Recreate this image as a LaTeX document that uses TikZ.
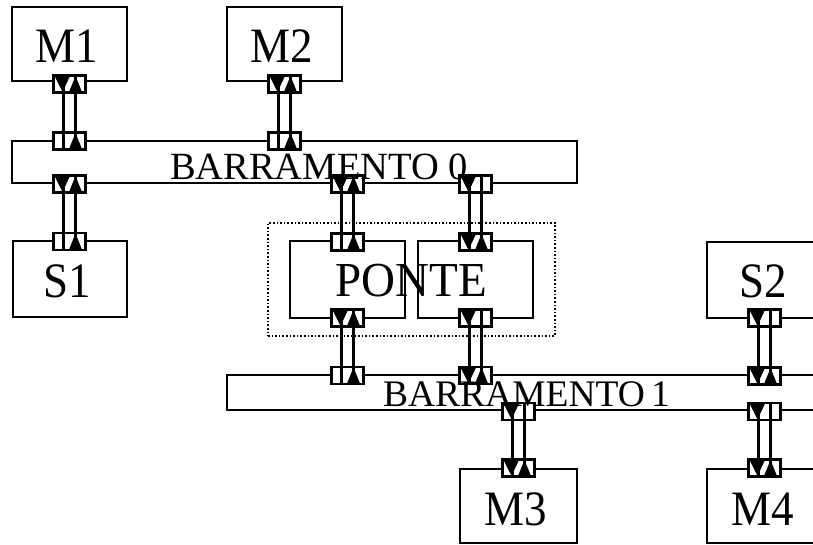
\documentclass[tikz,border=0pt]{standalone}
\usepackage{fontspec}
\setmainfont{Liberation Serif}
\usepackage{graphicx}
\usetikzlibrary{calc}
\tikzset{
  blk/.style={draw, line width=2.3pt, inner sep=0pt, outer sep=0pt},
  dotbox/.style={draw, dotted, line width=1.6pt, inner sep=0pt, outer sep=0pt},
  cbox/.style={draw, fill=white, line width=2.2pt, minimum width=32pt, minimum height=17pt, inner sep=0pt, outer sep=0pt},
  wire/.style={line width=2.3pt},
  lbl/.style={inner sep=0pt, font=\fontsize{45}{45}\selectfont},
  plbl/.style={inner sep=0pt, font=\fontsize{47}{47}\selectfont},
  buslbl/.style={inner sep=0pt, font=\fontsize{38.5}{38.5}\selectfont},
}
\newcommand{\tall}[1]{\scalebox{1}[1.1]{#1}}
\newcommand{\trdn}[1]{\fill ($(#1.north west)+(1,0.5)$) -- ($(#1.north west)+(16.5,0.5)$) -- ($(#1.north west)+(9,16.5)$) -- cycle;}
\newcommand{\trup}[1]{\fill ($(#1.north west)+(15.5,16.5)$) -- ($(#1.north west)+(28.5,16.5)$) -- ($(#1.north west)+(22,0.5)$) -- cycle;}
\newcommand{\wires}[2]{%
  \draw[wire] ($(#1.north west)+(10,0)$) -- ($(#2.south west)+(10,0)$);
  \draw[wire] ($(#1.north west)+(22,0)$) -- ($(#2.south west)+(22,0)$);}
\begin{document}
\begin{tikzpicture}[x=1pt, y=-1pt]
\useasboundingbox (0,0) rectangle (813,545);
\clip (0,0) rectangle (813,545);
% blocks
\node[blk, minimum width=115pt, minimum height=74pt] (m1) at (69.5,44) {};
\node[blk, minimum width=115pt, minimum height=74pt] (m2) at (284.5,44) {};
\node[blk, minimum width=565pt, minimum height=42pt] (bus0) at (294.5,162) {};
\node[blk, minimum width=114pt, minimum height=76pt] (s1) at (70,279) {};
\node[dotbox, minimum width=287pt, minimum height=113pt] (ponte) at (411.5,279.5) {};
\node[blk, minimum width=115pt, minimum height=77pt] (pl) at (347.5,279.5) {};
\node[blk, minimum width=115pt, minimum height=77pt] (pr) at (475.5,279.5) {};
\node[blk, minimum width=192pt, minimum height=76pt] (s2) at (803,280) {};
\node[blk, minimum width=672pt, minimum height=35pt] (bus1) at (563,392.5) {};
\node[blk, minimum width=117pt, minimum height=74pt] (m3) at (518.5,506) {};
\node[blk, minimum width=192pt, minimum height=74pt] (m4) at (803,506) {};
% connector boxes
\node[cbox] (c1) at (69.5,84) {};
\node[cbox] (c2) at (69.5,141) {};
\node[cbox] (c3) at (69.5,184) {};
\node[cbox] (c4) at (69.5,241.5) {};
\node[cbox] (c5) at (284.5,84) {};
\node[cbox] (c6) at (284.5,141) {};
\node[cbox] (c7) at (347.5,184) {};
\node[cbox] (c8) at (347.5,242) {};
\node[cbox] (c9) at (475.5,184) {};
\node[cbox] (c10) at (475.5,242) {};
\node[cbox] (c11) at (347.5,318) {};
\node[cbox] (c12) at (347.5,375.5) {};
\node[cbox] (c13) at (475.5,318) {};
\node[cbox] (c14) at (475.5,375.5) {};
\node[cbox] (c15) at (764.5,318) {};
\node[cbox] (c16) at (764.5,376) {};
\node[cbox] (c17) at (518.5,411.5) {};
\node[cbox] (c18) at (518.5,468) {};
\node[cbox] (c19) at (764.5,411.5) {};
\node[cbox] (c20) at (764.5,468) {};
% wires
\wires{c1}{c2}
\wires{c3}{c4}
\wires{c5}{c6}
\wires{c7}{c8}
\wires{c9}{c10}
\wires{c11}{c12}
\wires{c13}{c14}
\wires{c15}{c16}
\wires{c17}{c18}
\wires{c19}{c20}
% arrow heads
\trdn{c1}\trup{c1}
\trup{c2}
\trdn{c3}\trup{c3}
\trup{c4}
\trdn{c5}\trup{c5}
\trup{c6}
\trdn{c7}\trup{c7}
\trup{c8}
\trdn{c9}
\trdn{c10}\trup{c10}
\trdn{c11}\trup{c11}
\trup{c12}
\trdn{c13}
\trdn{c14}\trup{c14}
\trdn{c15}
\trdn{c16}\trup{c16}
\trdn{c17}
\trdn{c18}\trup{c18}
\trdn{c19}
\trdn{c20}\trup{c20}
% labels
\node[lbl] (tm1) at (66.5,46.5) {\tall{M1}};
\node[lbl] (tm2) at (281.5,46.5) {\tall{M2}};
\node[lbl] (ts1) at (67,281.5) {\tall{S1}};
\node[lbl] (ts2) at (763.5,281) {\tall{S2}};
\node[lbl] (tm3) at (516,509) {\tall{M3}};
\node[lbl] (tm4) at (763,509) {\tall{M4}};
\node[plbl] (tponte) at (411,281) {\scalebox{1}[1.04]{PONTE}};
\node[buslbl] (tbus0) at (319,166.5) {BARRAMENTO 0};
\node[buslbl, font=\fontsize{37.5}{37.5}\selectfont] (tbus1) at (526.5,394.5) {BARRAMENTO\,1};
\end{tikzpicture}
\end{document}
